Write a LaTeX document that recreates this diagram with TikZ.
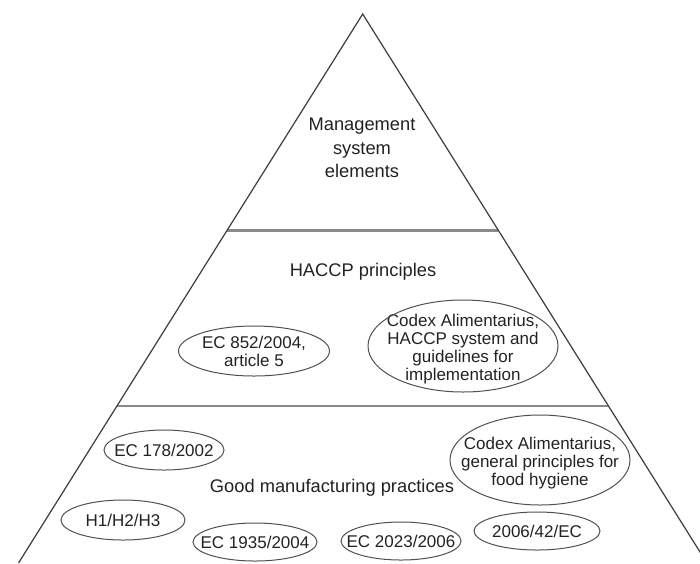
\documentclass[tikz,border=0pt]{standalone}
\usepackage{fontspec}
\setmainfont{Liberation Sans}
\usepackage{xcolor}
\usetikzlibrary{shapes.geometric}
\definecolor{sidegray}{HTML}{3C3C3C}
\definecolor{bandgray}{HTML}{8A8A8A}
\definecolor{ringgray}{HTML}{505050}
\definecolor{inkgray}{HTML}{222222}
\begin{document}
\begin{tikzpicture}[x=0.5pt,y=-0.5pt]
\tikzstyle{every node}+=[inner sep=0pt, text=inkgray, align=center]
\tikzstyle{tier}=[font=\fontsize{9.15}{11.75}\selectfont]
\tikzstyle{doc}=[font=\fontsize{8.5}{9}\selectfont]
\tikzstyle{ring}=[draw=ringgray, line width=0.5pt]
\useasboundingbox (0,0) rectangle (700,563);
\clip (0,0) rectangle (700,563);
% pyramid outline
\coordinate (apex) at (362.7,14);
\coordinate (baseL) at (18.5,563);
\coordinate (baseR) at (706.9,563);
\coordinate (cut1L) at (226.9,230.5);
\coordinate (cut1R) at (498.4,230.5);
\coordinate (cut2L) at (116.9,406);
\coordinate (cut2R) at (608.5,406);
\draw [bandgray, line width=1.1pt] (cut1L) -- (cut1R);
\draw [bandgray, line width=1.1pt] (cut2L) -- (cut2R);
\draw [sidegray, line width=0.6pt] (baseL) -- (apex) -- (baseR);
% tier labels
\node [tier] (mgmt) at (362,148) {Management\\system\\elements};
\node [tier] (haccp) at (363,272) {HACCP principles};
\node [tier] (gmp) at (332,488) {Good manufacturing practices};
% HACCP tier documents
\node [doc] (ec852) at (254,351) {EC 852/2004,\\article 5};
\draw [ring] (ec852) ellipse [x radius=75.5, y radius=25];
\node [doc] (codexH) at (463,349) {Codex Alimentarius,\\HACCP system and\\guidelines for\\implementation};
\draw [ring] (463,346) ellipse [x radius=95, y radius=46];
% GMP tier documents
\node [doc] (ec178) at (164,450) {EC 178/2002};
\draw [ring] (ec178) ellipse [x radius=60, y radius=20];
\node [doc] (codexG) at (540,463) {Codex Alimentarius,\\general principles for\\food hygiene};
\draw [ring] (540,460) ellipse [x radius=90, y radius=45];
\node [doc] (hygiene) at (123,520) {H1/H2/H3};
\draw [ring] (hygiene) ellipse [x radius=62, y radius=20];
\node [doc] (ec1935) at (255,542) {EC 1935/2004};
\draw [ring] (ec1935) ellipse [x radius=62, y radius=19];
\node [doc] (ec2023) at (401,541) {EC 2023/2006};
\draw [ring] (ec2023) ellipse [x radius=60, y radius=19];
\node [doc] (dir42) at (537,531) {2006/42/EC};
\draw [ring] (dir42) ellipse [x radius=63, y radius=19];
\end{tikzpicture}
\end{document}
